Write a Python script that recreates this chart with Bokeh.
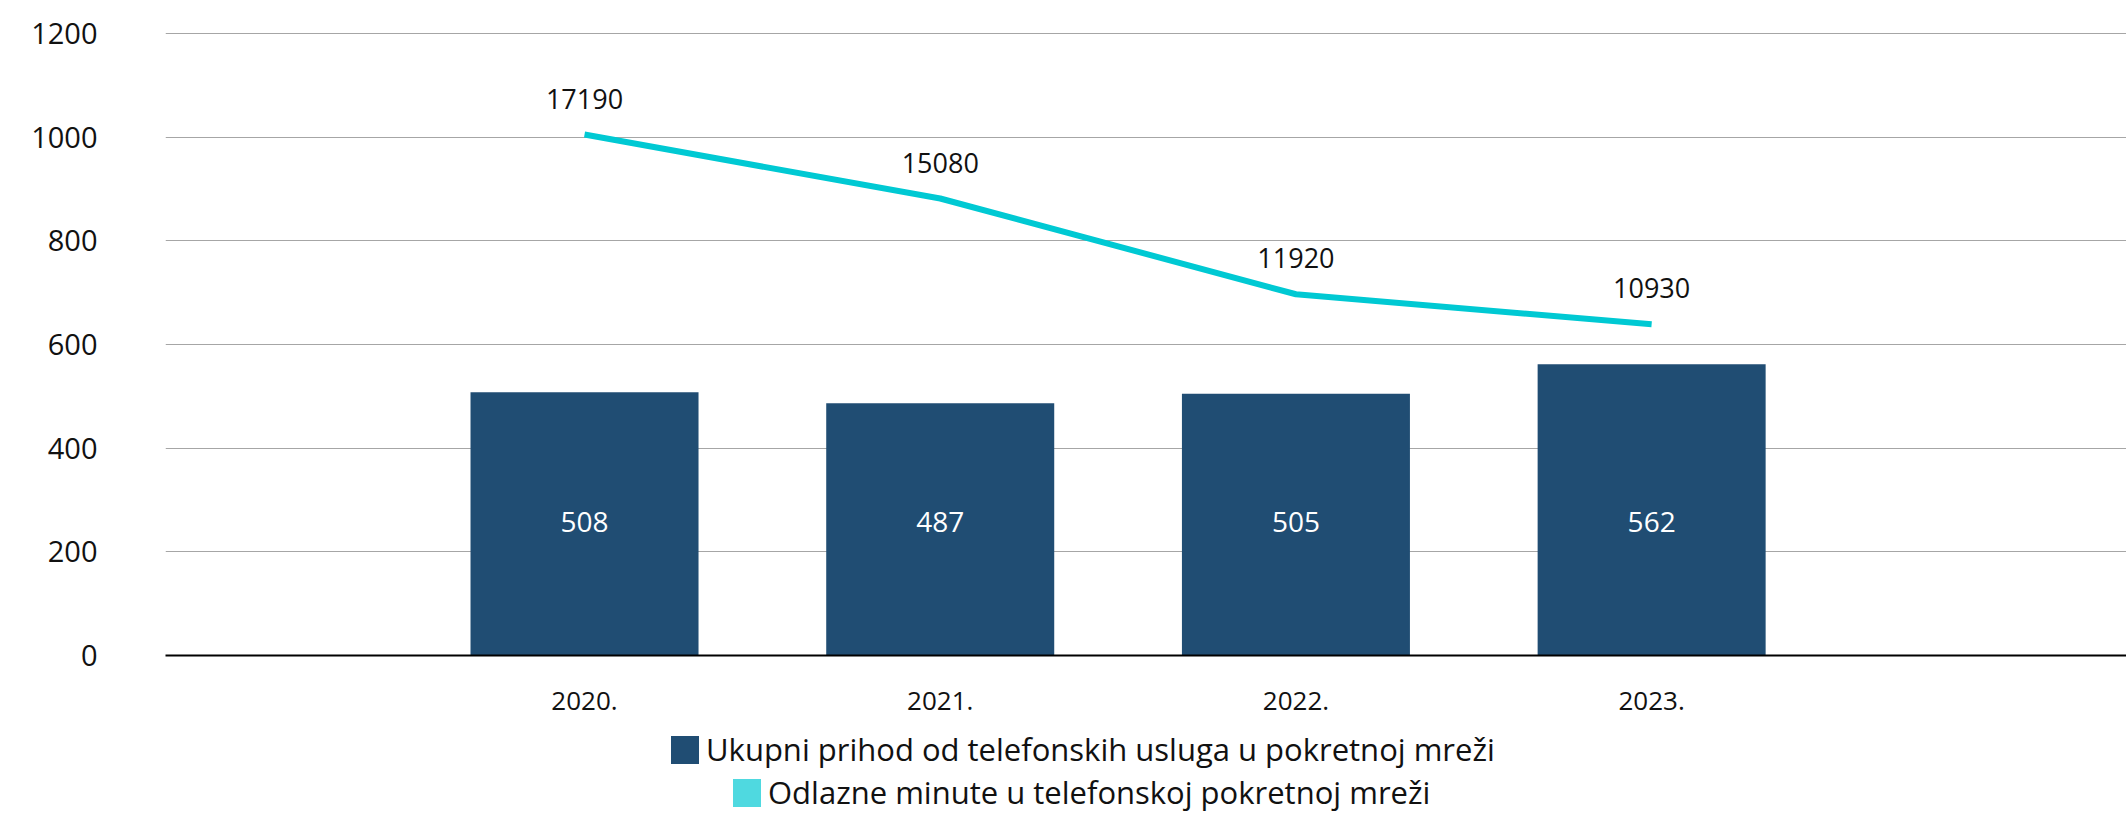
from bokeh.plotting import figure
from bokeh.layouts import column
from bokeh.models import (ColumnDataSource, Range1d, FixedTicker,
                          Legend, LegendItem)
from bokeh.core.properties import value
from bokeh.embed import file_html
from bokeh.resources import INLINE

# ---- data ----
years = ["2020.", "2021.", "2022.", "2023."]
revenue = [508, 487, 505, 562]          # Ukupni prihod (bars, left axis)
minutes = [17190, 15080, 11920, 10930]  # Odlazne minute (line, hidden right scale)
y_ticks = [0, 200, 400, 600, 800, 1000, 1200]
legend_labels = ["Ukupni prihod od telefonskih usluga u pokretnoj mreži",
                 "Odlazne minute u telefonskoj pokretnoj mreži"]

FONT = "Open Sans"
BAR_COLOR = "#204D73"
LINE_COLOR = "#00C9D3"
LEGEND_LINE_COLOR = "#4FD9E0"
TEXT_COLOR = "#111111"
W = 2126

idx = list(range(len(years)))
src = ColumnDataSource(dict(
    x=idx, year=years, revenue=revenue, minutes=minutes,
    rev_lbl=[str(v) for v in revenue], min_lbl=[str(v) for v in minutes],
    rev_lbl_y=[257] * len(years),
))

p = figure(width=W, height=725, output_backend="svg", toolbar_location=None,
           x_range=Range1d(-1.178, 4.335), y_range=Range1d(0, 1210),
           min_border_left=165, min_border_right=0, min_border_top=28,
           min_border_bottom=70)
p.extra_y_ranges = {"minutes": Range1d(0, 20690)}
p.outline_line_color = None
p.background_fill_color = "white"
p.border_fill_color = "white"

# grid
p.xgrid.visible = False
p.ygrid.ticker = FixedTicker(ticks=y_ticks)
p.ygrid.grid_line_color = "#A6A6A6"
p.ygrid.grid_line_width = 1

# y axis
ya = p.yaxis[0]
ya.ticker = FixedTicker(ticks=y_ticks)
ya.axis_line_color = None
ya.major_tick_line_color = None
ya.minor_tick_line_color = None
ya.major_tick_out = 0
ya.major_tick_in = 0
ya.major_label_standoff = 68
ya.major_label_text_font = FONT
ya.major_label_text_font_size = "29px"
ya.major_label_text_color = TEXT_COLOR

# x axis
xa = p.xaxis[0]
xa.ticker = FixedTicker(ticks=idx)
xa.major_label_overrides = {i: y for i, y in zip(idx, years)}
xa.axis_line_color = "#000000"
xa.axis_line_width = 2
xa.major_tick_line_color = None
xa.minor_tick_line_color = None
xa.major_tick_out = 0
xa.major_tick_in = 0
xa.major_label_standoff = 36
xa.major_label_text_font = FONT
xa.major_label_text_font_size = "26px"
xa.major_label_text_color = TEXT_COLOR

# bars
p.vbar(x="x", top="revenue", width=0.641, source=src,
       fill_color=BAR_COLOR, line_color=None)
p.text(x="x", y="rev_lbl_y", text="rev_lbl", source=src,
       text_align="center", text_baseline="middle",
       text_font=value(FONT), text_font_size="28px", text_color="white")

# line on hidden secondary scale
p.line(x="x", y="minutes", source=src, y_range_name="minutes",
       line_color=LINE_COLOR, line_width=6)
p.text(x="x", y="minutes", text="min_lbl", source=src, y_range_name="minutes",
       text_align="center", text_baseline="middle", y_offset=-36,
       text_font=value(FONT), text_font_size="27px", text_color=TEXT_COLOR)

# ---- legend strip below the chart (frames are aligned by the column) ----
p2 = figure(width=W, height=88, output_backend="svg", toolbar_location=None,
            x_range=Range1d(0, 1), y_range=Range1d(0, 1),
            x_axis_location=None, y_axis_location=None,
            min_border_left=165, min_border_right=0, min_border_top=0,
            min_border_bottom=0)
p2.grid.visible = False
p2.outline_line_color = None
p2.background_fill_color = "white"
p2.border_fill_color = "white"

# zero-size swatch renderers (only used for the legend swatches)
sw_bar = p2.vbar(x=[0], top=[0], width=0, fill_color=BAR_COLOR, line_color=None)
sw_line = p2.vbar(x=[0], top=[0], width=0, fill_color=LEGEND_LINE_COLOR,
                  line_color=None)


def make_legend(label, renderer, loc):
    lg = Legend(items=[LegendItem(label=label, renderers=[renderer])],
                location=loc, orientation="vertical",
                glyph_width=35, glyph_height=35, label_height=35,
                label_standoff=4, padding=0, margin=0, spacing=0,
                border_line_color=None, background_fill_alpha=0,
                label_text_font=FONT, label_text_font_size="31px",
                label_text_color=TEXT_COLOR)
    p2.add_layout(lg, "center")


make_legend(legend_labels[0], sw_bar, (502, 43))
make_legend(legend_labels[1], sw_line, (564, 0))

layout = column(p, p2, spacing=0)
open("out.html", "w").write(file_html(layout, INLINE))
